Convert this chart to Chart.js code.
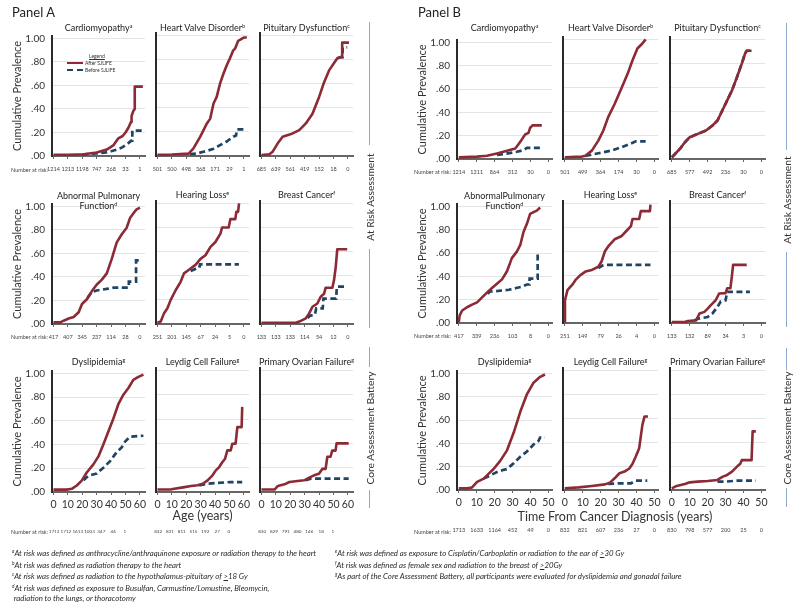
<!DOCTYPE html>
<html><head><meta charset="utf-8">
<script src="https://cdn.jsdelivr.net/npm/chart.js@4.4.1/dist/chart.umd.min.js"></script>
<style>
html,body{margin:0;padding:0;background:#fff}
#page{position:relative;width:800px;height:602px;overflow:hidden;font-family:Lato,"Open Sans",sans-serif;color:#222}
#page canvas{position:absolute}
.lbl{position:absolute;white-space:nowrap}
.ctr{transform:translate(-50%,-50%);text-align:center}
.ttl{font-size:9px;line-height:10px;color:#222}
sup{font-size:0.6em;line-height:0;vertical-align:0.6em}
.vline{position:absolute;width:1px;background:#8fa9cc}
.side{position:absolute;font-size:10.3px;color:#333;transform:translate(-50%,-50%) rotate(-90deg);white-space:nowrap}
.foot{position:absolute;font-size:7.8px;font-style:italic;color:#2a2a2a;white-space:nowrap;transform:translateY(-50%);will-change:transform}
.nar{position:absolute;font-size:5.5px;color:#444;transform:translate(-100%,-50%);white-space:nowrap}
.panel{position:absolute;font-size:13px;color:#222;transform:translateY(-50%)}
.xt{position:absolute;font-size:12.5px;color:#333;transform:translate(-50%,-50%);white-space:nowrap}
.leg{position:absolute;font-size:5px;color:#333;white-space:nowrap;transform:translateY(-50%)}
</style></head>
<body><div id="page"></div>
<script>
// ---------------- data ----------------
const ageTicks = [0, 10, 20, 30, 40, 50, 60];
const yearTicks = [0, 10, 20, 30, 40, 50];

// Panel A (x = age, years)
const aCardAfter = [[0,0.01],[10,0.01],[21,0.015],[30,0.03],[37,0.055],[41.5,0.09],[45,0.15],[48,0.17],[50,0.2],[52,0.24],[53.8,0.29],[54.2,0.34],[55.3,0.38],[56.4,0.40],[56.4,0.59],[62,0.59]];
const aCardBefore = [[20,0.013],[25,0.018],[30,0.022],[35,0.028],[40,0.04],[44,0.055],[48,0.075],[51,0.10],[54,0.13],[54.7,0.13],[54.7,0.215],[62,0.215]];
const aValveAfter = [[0,0.01],[10,0.012],[21.6,0.02],[25,0.063],[29.7,0.16],[34.3,0.27],[36.6,0.31],[38.9,0.435],[41.1,0.49],[43.4,0.60],[45.7,0.68],[48,0.75],[50.3,0.81],[52.6,0.876],[53.8,0.89],[56,0.955],[57.5,0.965],[59.5,0.98],[62,0.985]];
const aValveBefore = [[22.5,0.015],[27,0.02],[31.9,0.035],[35,0.045],[38.9,0.06],[43.4,0.09],[48,0.12],[52.6,0.16],[54.5,0.17],[55.2,0.22],[62,0.22]];
const aPitAfter = [[0,0.008],[5.5,0.014],[7.8,0.036],[11.3,0.105],[14.7,0.16],[21.6,0.187],[26.2,0.215],[30.8,0.27],[35.4,0.35],[40,0.49],[43.4,0.61],[46.9,0.71],[49.2,0.75],[52.6,0.81],[55,0.82],[56,0.82],[56,0.94],[60.7,0.94]];
const aPitBefore = [[52.6,0.81],[55,0.82],[56.3,0.82],[56.3,0.90],[59.5,0.90]];
const aPulmAfter = [[0,0.014],[4.8,0.014],[7.1,0.028],[10.6,0.047],[14,0.06],[17.5,0.10],[19.8,0.17],[23.2,0.21],[26.7,0.28],[30.1,0.336],[33.6,0.377],[37,0.43],[40.5,0.556],[43.9,0.694],[47.4,0.763],[50.8,0.818],[53.1,0.90],[55.4,0.94],[57.7,0.975],[60,0.99]];
const aPulmBefore = [[23.5,0.22],[26.5,0.27],[30,0.285],[38,0.30],[42,0.31],[52.3,0.31],[52.3,0.36],[57.3,0.36],[57.3,0.54],[60,0.54]];
const aHearAfter = [[0,0.01],[2.3,0.02],[4.6,0.09],[6.9,0.13],[9.2,0.20],[12.6,0.28],[16.1,0.35],[18.4,0.42],[20.7,0.44],[24.1,0.47],[26.4,0.49],[29.9,0.54],[33.3,0.57],[36.8,0.64],[40.2,0.68],[43.7,0.75],[44.8,0.80],[49.4,0.80],[50.6,0.87],[54,0.87],[54.7,0.93],[55.9,0.93],[56.6,1.0]];
const aHearBefore = [[23,0.44],[26,0.455],[29,0.465],[29.5,0.495],[56.5,0.495]];
const aBreastAfter = [[0,0.01],[24,0.01],[26.2,0.02],[30.8,0.047],[33.1,0.088],[35.4,0.143],[38.8,0.17],[41.1,0.226],[43.4,0.25],[44.5,0.30],[49.2,0.30],[50.3,0.36],[51.5,0.47],[52.6,0.62],[59.5,0.62]];
const aBreastBefore = [[32,0.05],[34,0.07],[37,0.075],[38,0.13],[42.5,0.13],[43,0.21],[51.8,0.21],[52.3,0.31],[59.5,0.31]];
const aDysAfter = [[0,0.02],[9.2,0.02],[12.7,0.027],[16.2,0.055],[19.6,0.096],[23.1,0.164],[27.7,0.233],[31.2,0.30],[34.6,0.40],[38.1,0.51],[41.6,0.62],[45,0.74],[48.5,0.82],[52,0.877],[55.4,0.945],[58.9,0.97],[62.4,0.99]];
const aDysBefore = [[20.8,0.10],[24.2,0.137],[30,0.156],[34.6,0.205],[39.3,0.26],[43.9,0.337],[47.3,0.375],[49.7,0.425],[53.1,0.466],[62.4,0.474]];
const aLeyAfter = [[0,0.02],[9.6,0.022],[18.8,0.04],[23.3,0.05],[27.9,0.055],[31.4,0.068],[34.8,0.096],[38.2,0.137],[40.5,0.178],[42.8,0.205],[45.1,0.247],[46.9,0.274],[48.5,0.342],[50.8,0.342],[51.9,0.397],[54.2,0.397],[55.4,0.534],[58.4,0.534],[58.8,0.70]];
const aLeyBefore = [[29,0.055],[34.8,0.068],[41.6,0.074],[50.8,0.082],[58.8,0.082]];
const aOvAfter = [[0,0.02],[9.1,0.02],[11.4,0.05],[16,0.063],[19.4,0.082],[25.1,0.09],[29.7,0.096],[33.1,0.118],[36.5,0.137],[39.9,0.15],[42.2,0.19],[44.5,0.19],[45.7,0.29],[47.9,0.29],[49.1,0.34],[51.4,0.34],[52.1,0.40],[60.5,0.40]];
const aOvBefore = [[30.8,0.096],[34.2,0.11],[60.5,0.11]];

// Panel B (x = years from diagnosis)
const bCardAfter = [[0,0.014],[10.2,0.02],[15.7,0.028],[21.3,0.048],[26.9,0.07],[31.5,0.09],[33.3,0.126],[35.2,0.168],[37,0.21],[38.9,0.224],[39.8,0.266],[41.1,0.288],[46.3,0.288]];
const bCardBefore = [[21.3,0.036],[26,0.045],[32.4,0.062],[36.1,0.076],[38,0.095],[45.4,0.095]];
const bValveAfter = [[0,0.014],[9.6,0.02],[11.5,0.028],[15.1,0.07],[18.7,0.154],[21.5,0.238],[24.2,0.35],[27.8,0.46],[31.5,0.588],[35.1,0.714],[37.8,0.826],[40.5,0.924],[43.3,0.966],[45.1,1.0]];
const bValveBefore = [[11.5,0.025],[18.7,0.048],[26,0.07],[31.5,0.098],[36.9,0.13],[39.6,0.148],[45.1,0.148]];
const bPitAfter = [[0,0.014],[1.8,0.042],[4.5,0.084],[7.3,0.14],[10,0.182],[14.5,0.21],[19.1,0.238],[22.7,0.28],[25.5,0.322],[28.2,0.406],[30.9,0.49],[33.6,0.574],[36.4,0.686],[39.1,0.80],[40.9,0.882],[41.8,0.905],[44.5,0.905]];
const bPitBefore = [[0,0.014],[1.8,0.042],[4.5,0.084],[7.3,0.14],[10,0.182],[14.5,0.21],[19.1,0.238],[22.7,0.28],[25.5,0.322],[28.2,0.406],[30.9,0.49],[33.6,0.574],[36.4,0.686],[39.1,0.80],[40.9,0.882],[41.8,0.905],[44.5,0.905]];
const bPulmAfter = [[0,0.008],[0.5,0.065],[1.9,0.107],[4.6,0.135],[7.4,0.157],[10.2,0.177],[13,0.22],[15.7,0.26],[18.5,0.30],[21.3,0.337],[24.1,0.374],[26.9,0.444],[29.6,0.556],[32.4,0.612],[34.3,0.669],[36.1,0.78],[38,0.85],[39.8,0.935],[41.7,0.95],[43.5,0.963],[45.4,0.99]];
const bPulmBefore = [[16,0.25],[17.5,0.27],[22,0.275],[28,0.285],[32,0.30],[35,0.31],[38,0.33],[39.5,0.33],[39.5,0.38],[44,0.38],[44,0.60]];
const bHearAfter = [[0,0.008],[0.1,0.19],[1.5,0.275],[4.2,0.32],[6,0.36],[8.7,0.40],[11.5,0.43],[15.1,0.444],[18.7,0.47],[20.5,0.514],[22.4,0.60],[24.2,0.64],[27.8,0.70],[31.5,0.725],[34.2,0.767],[36.9,0.81],[37.8,0.87],[41.5,0.87],[42.4,0.935],[47.5,0.935],[47.8,0.99]];
const bHearBefore = [[18.7,0.458],[21,0.48],[22.4,0.486],[47.8,0.486]];
const bBreastAfter = [[0,0.008],[7.3,0.008],[9,0.017],[13.6,0.022],[14.5,0.05],[15.5,0.08],[18.2,0.093],[20,0.12],[21.8,0.15],[24.5,0.19],[26.4,0.247],[30,0.25],[30.9,0.29],[32.7,0.29],[33.6,0.40],[34.2,0.486],[41.8,0.486]];
const bBreastBefore = [[12.7,0.022],[14.5,0.036],[20,0.05],[22.7,0.08],[25.5,0.135],[27.3,0.18],[30,0.19],[30.9,0.26],[43.6,0.26]];
const bDysAfter = [[0,0.014],[4.6,0.014],[7.4,0.022],[10.2,0.07],[13.9,0.098],[16.7,0.14],[19.4,0.18],[23.1,0.25],[26.9,0.34],[30.6,0.49],[34.3,0.67],[38,0.82],[41.7,0.92],[45.4,0.97],[48.1,0.99]];
const bDysBefore = [[13.9,0.098],[17.6,0.126],[21.3,0.154],[25,0.173],[26.9,0.18],[30.6,0.23],[34.3,0.285],[38,0.33],[41.7,0.39],[44.4,0.42],[45.4,0.45],[48.1,0.45]];
const bLeyAfter = [[0,0.014],[7.8,0.022],[15.1,0.034],[22.4,0.047],[25.1,0.06],[27.8,0.098],[30.5,0.14],[33.3,0.154],[36,0.18],[37.8,0.22],[39.6,0.28],[41.5,0.35],[42.4,0.447],[43.3,0.545],[44.5,0.615],[46.4,0.615]];
const bLeyBefore = [[24.2,0.05],[30,0.056],[36.9,0.056],[39.6,0.078],[46,0.078]];
const bOvAfter = [[0,0.014],[2.7,0.034],[7.3,0.05],[10,0.064],[14.5,0.07],[20,0.075],[25.5,0.084],[28.2,0.11],[30.9,0.126],[33.6,0.154],[36.4,0.196],[38.2,0.22],[39.1,0.25],[44.5,0.25],[45.1,0.49],[46.9,0.49]];
const bOvBefore = [[25.5,0.07],[30,0.07],[36.4,0.078],[46.9,0.078]];

// Number at risk (tick labels)
const riskACard = [1214,1213,1198,747,268,33,1];
const riskAValve = [501,500,498,368,171,29,1];
const riskAPit = [685,639,561,419,152,18,0];
const riskAPulm = [417,407,345,237,114,28,0];
const riskAHear = [251,201,145,67,24,5,0];
const riskABreast = [133,133,133,114,54,12,0];
const riskADys = [1713,1712,1613,1003,347,46,1];
const riskALey = [832,831,811,515,192,27,0];
const riskAOv = [830,829,791,480,146,18,1];
const riskBCard = [1214,1211,864,312,30,0];
const riskBValve = [501,499,364,174,30,0];
const riskBPit = [685,577,492,236,30,0];
const riskBPulm = [417,339,236,103,8,0];
const riskBHear = [251,149,79,26,4,0];
const riskBBreast = [133,132,89,34,3,0];
const riskBDys = [1713,1633,1164,452,49,0];
const riskBLey = [832,821,607,236,27,0];
const riskBOv = [830,798,577,200,25,0];

const chartList = [
 {p:'A',r:0,c:0,title:['Cardiomyopathy'],note:'a',after:aCardAfter,before:aCardBefore,risk:riskACard},
 {p:'A',r:0,c:1,title:['Heart Valve Disorder'],note:'b',after:aValveAfter,before:aValveBefore,risk:riskAValve},
 {p:'A',r:0,c:2,title:['Pituitary Dysfunction'],note:'c',after:aPitAfter,before:aPitBefore,risk:riskAPit},
 {p:'A',r:1,c:0,title:['Abnormal Pulmonary','Function'],note:'d',after:aPulmAfter,before:aPulmBefore,risk:riskAPulm},
 {p:'A',r:1,c:1,title:['Hearing Loss'],note:'e',after:aHearAfter,before:aHearBefore,risk:riskAHear},
 {p:'A',r:1,c:2,title:['Breast Cancer'],note:'f',after:aBreastAfter,before:aBreastBefore,risk:riskABreast},
 {p:'A',r:2,c:0,title:['Dyslipidemia'],note:'g',after:aDysAfter,before:aDysBefore,risk:riskADys},
 {p:'A',r:2,c:1,title:['Leydig Cell Failure'],note:'g',after:aLeyAfter,before:aLeyBefore,risk:riskALey},
 {p:'A',r:2,c:2,title:['Primary Ovarian Failure'],note:'g',after:aOvAfter,before:aOvBefore,risk:riskAOv},
 {p:'B',r:0,c:0,title:['Cardiomyopathy'],note:'a',after:bCardAfter,before:bCardBefore,risk:riskBCard},
 {p:'B',r:0,c:1,title:['Heart Valve Disorder'],note:'b',after:bValveAfter,before:bValveBefore,risk:riskBValve},
 {p:'B',r:0,c:2,title:['Pituitary Dysfunction'],note:'c',after:bPitAfter,before:bPitBefore,risk:riskBPit},
 {p:'B',r:1,c:0,title:['AbnormalPulmonary','Function'],note:'d',after:bPulmAfter,before:bPulmBefore,risk:riskBPulm},
 {p:'B',r:1,c:1,title:['Hearing Loss'],note:'e',after:bHearAfter,before:bHearBefore,risk:riskBHear},
 {p:'B',r:1,c:2,title:['Breast Cancer'],note:'f',after:bBreastAfter,before:bBreastBefore,risk:riskBBreast},
 {p:'B',r:2,c:0,title:['Dyslipidemia'],note:'g',after:bDysAfter,before:bDysBefore,risk:riskBDys},
 {p:'B',r:2,c:1,title:['Leydig Cell Failure'],note:'g',after:bLeyAfter,before:bLeyBefore,risk:riskBLey},
 {p:'B',r:2,c:2,title:['Primary Ovarian Failure'],note:'g',after:bOvAfter,before:bOvBefore,risk:riskBOv}
];

// ---------------- layout ----------------
const FONT = 'Lato, "Open Sans", sans-serif';
const RED = '#8c2a36', BLUE = '#1f4464';
const PANELS = {
  A: {colLeft:[52,156,260], plotW:93, rowBottom:[156,324,492], unit:[121,121,122], xMin:-1, xMax:63.5,
      riskMin:-1.8, riskMax:77, riskFont:4.6, titleY:[28,195,362],
      narX:48, narY:[169.5,337,532], label:'Panel A', labelX:12, xTitle:'Age (years)', xTitleX:202.5, xTitleY:515,
      sideX:369, sideLines:[[22,145],[249,328],[347,367],[490,508]], sideText:[[197,'At Risk Assessment'],[428,'Core Assessment Battery']]},
  B: {colLeft:[457,563,670], plotW:95, rowBottom:[158.5,323,490], unit:[119.5,119.5,119.5], xMin:-1, xMax:52,
      riskMin:-1, riskMax:52, riskFont:5.5, titleY:[28,195,362],
      narX:451, narY:[172,336,532], label:'Panel B', labelX:418, xTitle:'Time From Cancer Diagnosis (years)', xTitleX:615, xTitleY:516,
      sideX:786, sideLines:[[23,150],[252,327],[348,370],[488,507]], sideText:[[200,'At Risk Assessment'],[428,'Core Assessment Battery']]}
};

const page = document.getElementById('page');
function el(tag, cls, html, style){
  const e = document.createElement(tag);
  if (cls) e.className = cls;
  if (html != null) e.innerHTML = html;
  Object.assign(e.style, style || {});
  page.appendChild(e);
  return e;
}
const toXY = pts => pts.map(([x, y]) => ({x, y}));
const riskLabel = risk => v => { const i = Math.round(v / 10); return i >= 0 && i < risk.length ? String(risk[i]) : ''; };

chartList.forEach(ch => {
  const P = PANELS[ch.p];
  const plotLeft = P.colLeft[ch.c], plotW = P.plotW;
  const plotBottom = P.rowBottom[ch.r], unit = P.unit[ch.r];
  const yMax = 1.02;
  const plotH = unit * yMax;
  const plotTop = plotBottom - plotH;
  const isLeft = ch.c === 0, isBottom = ch.r === 2;
  const offL = isLeft ? 50 : 14, PT = 10, PR = 10;
  const XH = isBottom ? 30 : 20, XH2 = isBottom ? 16 : 0;
  const W = Math.round(offL + plotW + PR), H = Math.round(PT + plotH + XH + XH2);
  const cv = document.createElement('canvas');
  cv.width = W; cv.height = H;
  Object.assign(cv.style, {left:(plotLeft - offL) + 'px', top:(plotTop - PT) + 'px', width:W + 'px', height:H + 'px'});
  page.appendChild(cv);

  const scales = {
    x: {type:'linear', position:'bottom', weight:0, min:P.xMin, max:P.xMax,
        afterFit: s => { s.height = XH; },
        border:{display:true, color:'#666', width:2},
        grid:{display:true, drawOnChartArea:false, drawTicks:true, tickLength:3, color:'#666'},
        ticks:{stepSize:10, includeBounds:false, autoSkip:false, maxRotation:0, minRotation:0,
               padding: isBottom ? 3 : 7,
               font: {family:FONT, size: isBottom ? 10.5 : 5.5},
               color: isBottom ? '#333' : '#444',
               callback: isBottom ? (v => String(v)) : riskLabel(ch.risk)}},
    y: {type:'linear', min:0, max:yMax,
        afterFit: s => { s.width = isLeft ? 50 : 4; },
        border:{display:true, color:'#2a2a2a', width:2},
        grid:{color:'#e4e4e4', lineWidth:1, drawTicks:false},
        ticks:{display:isLeft, stepSize:0.2, includeBounds:false, padding:7,
               font:{family:FONT, size:10}, color:'#333',
               callback: v => v >= 0.999 ? '1.00' : v.toFixed(2).replace(/^0/, '')},
        title:{display:isLeft, text:'Cumulative Prevalence', font:{family:FONT, size:11}, color:'#333', padding:{top:9, bottom:0}}}
  };
  if (isBottom) {
    scales.x2 = {type:'linear', position:'bottom', weight:1, min:P.riskMin, max:P.riskMax,
        afterFit: s => { s.height = XH2; },
        border:{display:false}, grid:{display:false, drawTicks:false},
        ticks:{stepSize:10, includeBounds:false, autoSkip:false, maxRotation:0, minRotation:0, padding:7,
               font:{family:FONT, size:P.riskFont}, color:'#444', callback: riskLabel(ch.risk)}};
  }

  new Chart(cv, {
    type:'line',
    data:{datasets:[
      {label:'After SJLIFE', data:toXY(ch.after), borderColor:RED, borderWidth:2.6, pointRadius:0, tension:0, order:0, borderJoinStyle:'round', fill:false},
      {label:'Before SJLIFE', data:toXY(ch.before), borderColor:BLUE, borderWidth:2.7, borderDash:[6,3.5], pointRadius:0, tension:0, order:1, fill:false}
    ]},
    options:{responsive:false, animation:false, events:[],
      layout:{padding:{left:isLeft ? 0 : 10, top:PT, right:PR, bottom:0}},
      plugins:{legend:{display:false}, tooltip:{enabled:false}},
      scales}
  });

  // chart title
  const lines = ch.title.slice();
  lines[lines.length - 1] += '<sup>' + ch.note + '</sup>';
  const ty = P.titleY[ch.r] + (lines.length > 1 ? 6 : 0);
  el('div', 'lbl ctr ttl', lines.join('<br>'), {left:(plotLeft + plotW / 2) + 'px', top:ty + 'px'});
});

// panel-level labels
Object.values(PANELS).forEach(P => {
  el('div', 'panel', P.label, {left:P.labelX + 'px', top:'12px'});
  P.narY.forEach(y => el('div', 'nar', 'Number at risk:', {left:P.narX + 'px', top:y + 'px'}));
  el('div', 'xt', P.xTitle, {left:P.xTitleX + 'px', top:P.xTitleY + 'px'});
  P.sideLines.forEach(([a, b]) => el('div', 'vline', null, {left:P.sideX + 'px', top:a + 'px', height:(b - a) + 'px'}));
  P.sideText.forEach(([y, t]) => el('div', 'side', t, {left:(P.sideX + 1) + 'px', top:y + 'px'}));
});

// legend (Panel A, first chart)
el('div', 'leg', '<u>Legend</u>', {left:'89px', top:'56px'});
el('div', null, null, {position:'absolute', left:'67px', top:'62px', width:'16px', borderTop:'2.5px solid ' + RED});
el('div', null, null, {position:'absolute', left:'67px', top:'69px', width:'16px', borderTop:'2.5px dashed ' + BLUE});
el('div', 'leg', 'After SJLIFE', {left:'85px', top:'63px'});
el('div', 'leg', 'Before SJLIFE', {left:'85px', top:'70px'});

// footnotes
const footLeft = [
  '<sup>a</sup>At risk was defined as anthracycline/anthraquinone exposure or radiation therapy to the heart',
  '<sup>b</sup>At risk was defined as radiation therapy to the heart',
  '<sup>c</sup>At risk was defined as radiation to the hypothalamus-pituitary of <u>&gt;</u>18 Gy',
  '<sup>d</sup>At risk was defined as exposure to Busulfan, Carmustine/Lomustine, Bleomycin,',
  '&nbsp;radiation to the lungs, or thoracotomy'
];
const footRight = [
  '<sup>e</sup>At risk was defined as exposure to Cisplatin/Carboplatin or radiation to the ear of <u>&gt;</u>30 Gy',
  '<sup>f</sup>At risk was defined as female sex and radiation to the breast of <u>&gt;</u>20Gy',
  '<sup>g</sup>As part of the Core Assessment Battery, all participants were evaluated for dyslipidemia and gonadal failure'
];
const footY = [553, 564.5, 576, 587.5, 597.5];
footLeft.forEach((t, i) => el('div', 'foot', t, {left:'12px', top:footY[i] + 'px'}));
footRight.forEach((t, i) => el('div', 'foot', t, {left:'335px', top:footY[i] + 'px'}));
</script>
</body></html>
